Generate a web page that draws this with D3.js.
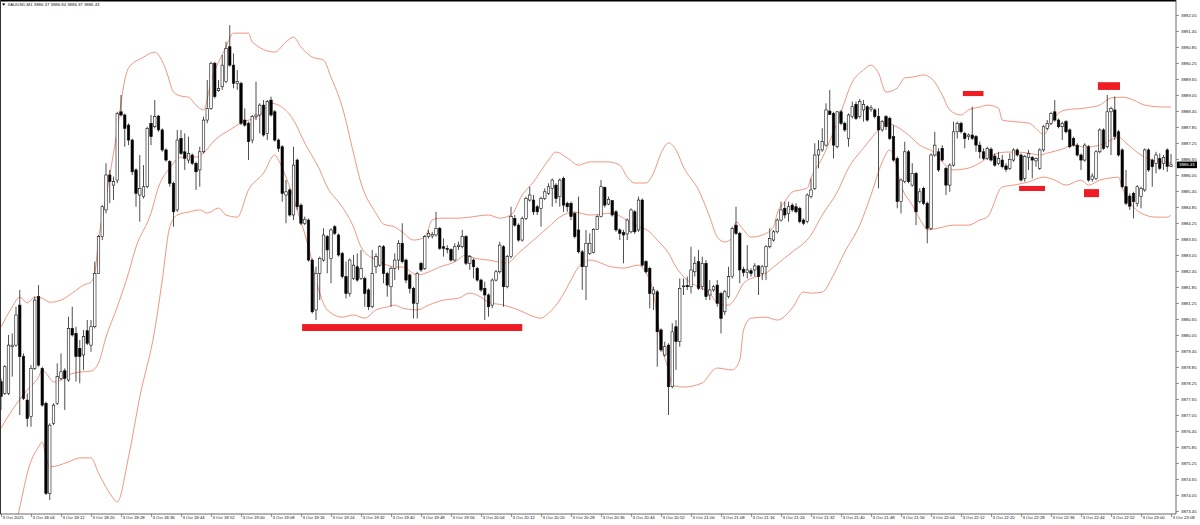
<!DOCTYPE html>
<html>
<head>
<meta charset="utf-8">
<script src="https://cdn.jsdelivr.net/npm/d3@7"></script>
<style>
  body { margin: 0; background: #fff; }
  svg { display: block; font-family: "Liberation Sans", Arial, sans-serif; }
</style>
</head>
<body>
<div class="chart"></div>
<script>
// XAUUSD M1, bar 0 = 3 Oct 17:56, one bar per minute
const symbolName = "XAUUSD,M1";

const opens = [
  3878.30,3877.86,3877.86,3879.61,3879.67,3881.17,3879.24,3877.61,3876.99,3878.80,
  3881.49,3878.80,3877.49,3874.11,3876.74,3877.49,3878.42,3878.71,3878.36,3880.30,
  3880.11,3879.55,3879.30,3880.21,3879.67,3880.36,3882.36,3883.74,3884.74,3886.05,
  3885.67,3885.86,3888.42,3888.30,3887.92,3887.36,3886.24,3885.30,3885.24,3885.61,
  3887.99,3887.86,3888.26,3887.74,3886.99,3886.55,3885.74,3884.74,3887.42,3886.92,
  3886.61,3886.80,3886.49,3886.24,3886.92,3888.11,3888.55,3890.24,3889.21,3889.36,
  3889.55,3890.86,3890.17,3889.49,3889.49,3888.11,3887.99,3887.36,3888.24,3888.30,
  3888.67,3887.61,3888.86,3888.42,3887.36,3887.11,3885.30,3885.49,3884.55,3886.61,
  3884.92,3884.24,3884.36,3882.86,3880.99,3882.36,3882.86,3883.74,3882.92,3884.11,
  3883.80,3883.11,3882.24,3881.61,3882.17,3882.61,3882.17,3882.17,3881.74,3881.11,
  3882.61,3882.67,3883.36,3882.36,3881.86,3882.55,3882.86,3883.49,3882.86,3882.30,
  3881.80,3881.24,3882.74,3882.55,3883.74,3883.76,3883.80,3884.05,3883.36,3883.30,
  3883.26,3882.86,3883.36,3883.36,3883.74,3882.74,3882.86,3882.55,3882.11,3881.80,
  3881.55,3881.17,3882.11,3882.42,3883.36,3881.86,3882.99,3884.42,3884.17,3883.61,
  3884.42,3885.11,3885.11,3884.86,3884.80,3885.17,3885.36,3885.55,3885.67,3885.24,
  3885.92,3884.99,3884.99,3884.61,3883.99,3883.17,3882.61,3883.11,3883.14,3884.01,
  3884.49,3885.59,3884.96,3885.09,3884.67,3883.99,3883.89,3883.84,3883.92,3884.67,
  3883.99,3885.11,3882.80,3882.55,3881.59,3881.67,3880.24,3879.30,3879.67,3878.11,
  3880.36,3879.80,3881.86,3881.91,3881.86,3882.42,3882.80,3881.86,3882.74,3881.55,
  3881.74,3881.92,3881.61,3880.92,3881.49,3882.24,3884.17,3883.86,3882.51,3882.39,
  3882.46,3882.49,3882.64,3882.36,3882.61,3883.36,3883.61,3883.92,3884.36,3884.80,
  3884.61,3884.92,3884.86,3884.80,3884.36,3884.30,3885.24,3885.55,3886.80,3886.99,
  3887.17,3888.45,3888.36,3887.11,3888.42,3887.99,3887.42,3888.24,3888.70,3888.24,
  3888.49,3888.61,3888.52,3888.49,3888.24,3887.74,3888.24,3888.17,3887.49,3886.67,
  3885.05,3885.80,3886.92,3885.67,3886.11,3885.05,3885.55,3884.99,3884.05,3886.80,
  3886.92,3887.05,3886.30,3885.67,3886.42,3887.67,3887.99,3887.61,3887.49,3887.55,
  3887.49,3887.17,3886.92,3886.67,3887.02,3886.76,3886.49,3886.61,3886.39,3886.30,
  3886.61,3886.99,3886.80,3885.92,3886.71,3886.71,3886.58,3886.30,3886.99,3887.80,
  3887.99,3888.42,3888.11,3887.86,3888.05,3887.74,3887.42,3887.17,3886.80,3886.61,
  3887.11,3885.89,3885.92,3886.92,3887.74,3887.11,3888.42,3888.49,3887.67,3886.99,
  3885.61,3885.26,3885.36,3884.99,3885.24,3885.49,3886.99,3886.61,3886.49,3886.67,
  3886.49,3886.99,3886.37
];

const highs = [
  3878.42,3878.92,3880.05,3880.11,3881.11,3881.74,3879.36,3877.86,3878.92,3881.49,
  3881.92,3878.86,3877.55,3876.74,3877.49,3878.99,3879.36,3878.80,3880.74,3881.11,
  3880.36,3879.86,3880.24,3880.61,3880.61,3882.80,3883.80,3884.92,3886.49,3886.24,
  3885.99,3888.42,3889.05,3888.36,3887.99,3887.42,3886.30,3886.80,3886.42,3887.86,
  3888.30,3888.86,3888.30,3887.80,3887.05,3886.61,3885.80,3887.74,3887.74,3887.61,
  3887.49,3886.86,3886.55,3887.11,3888.24,3889.61,3890.30,3890.30,3889.61,3890.55,
  3891.05,3891.67,3890.61,3889.99,3889.55,3888.55,3888.05,3888.30,3889.55,3888.74,
  3888.86,3888.86,3888.99,3888.49,3887.42,3887.17,3885.86,3885.55,3887.11,3886.67,
  3884.99,3884.49,3884.42,3882.92,3882.61,3882.99,3884.05,3883.80,3884.05,3884.17,
  3883.86,3883.17,3882.80,3882.92,3883.05,3883.11,3883.24,3882.24,3881.80,3883.24,
  3883.11,3883.42,3883.42,3882.42,3882.61,3883.11,3883.61,3884.24,3882.92,3882.36,
  3881.86,3882.42,3882.80,3883.80,3883.99,3883.92,3884.67,3884.11,3883.67,3883.42,
  3883.30,3883.49,3883.55,3883.99,3883.80,3883.05,3882.92,3882.61,3882.17,3882.05,
  3881.61,3882.17,3882.49,3883.55,3883.42,3883.05,3884.86,3884.55,3884.24,3884.49,
  3885.24,3885.61,3885.30,3884.92,3885.24,3885.55,3885.74,3885.92,3885.74,3885.92,
  3885.99,3885.05,3885.05,3884.67,3885.24,3883.24,3883.99,3883.86,3884.05,3884.55,
  3885.86,3885.61,3885.24,3885.11,3884.74,3884.05,3883.99,3884.42,3884.80,3884.74,
  3885.24,3885.17,3882.86,3882.61,3881.86,3881.74,3880.30,3879.80,3879.74,3880.49,
  3880.61,3882.17,3882.17,3882.24,3883.36,3882.99,3883.24,3882.99,3882.86,3882.11,
  3881.92,3882.11,3881.67,3881.74,3882.61,3884.11,3884.86,3883.92,3882.61,3883.42,
  3882.55,3882.74,3882.67,3882.67,3883.42,3884.05,3883.99,3884.42,3885.05,3885.05,
  3885.05,3884.99,3884.99,3884.86,3884.42,3885.36,3885.92,3887.24,3887.36,3887.80,
  3888.74,3889.24,3888.42,3888.45,3888.49,3888.05,3888.36,3888.80,3888.80,3888.90,
  3888.86,3888.67,3888.67,3888.55,3888.55,3888.11,3888.30,3888.24,3887.92,3886.74,
  3885.92,3887.30,3886.99,3886.49,3886.17,3885.55,3885.61,3885.05,3886.86,3887.67,
  3887.05,3887.17,3886.36,3886.49,3888.05,3888.05,3888.05,3887.67,3887.61,3888.61,
  3887.55,3887.30,3887.05,3887.11,3887.09,3886.86,3886.92,3886.80,3886.49,3886.86,
  3887.05,3887.05,3886.86,3886.80,3886.99,3886.76,3886.71,3887.05,3887.92,3888.11,
  3888.42,3888.86,3888.17,3888.05,3888.11,3887.80,3887.49,3887.24,3886.86,3887.24,
  3887.17,3886.11,3886.99,3887.80,3887.80,3889.05,3888.61,3888.99,3887.74,3887.05,
  3886.24,3885.36,3885.42,3885.67,3885.61,3887.05,3887.05,3886.67,3886.92,3886.86,
  3886.80,3887.05,3886.84
];

const lows = [
  3877.24,3877.80,3877.80,3878.49,3879.61,3877.05,3877.61,3876.61,3876.61,3878.74,
  3878.86,3877.36,3874.05,3873.86,3876.67,3877.42,3878.36,3877.24,3878.30,3879.99,
  3878.30,3878.24,3878.74,3879.67,3879.42,3880.30,3882.36,3883.61,3884.61,3884.99,
  3885.11,3885.74,3888.24,3887.11,3887.17,3886.05,3884.86,3884.30,3885.17,3885.55,
  3887.17,3887.80,3887.67,3886.92,3886.55,3885.61,3884.11,3884.67,3886.80,3886.24,
  3886.49,3886.42,3885.49,3885.61,3886.86,3887.99,3888.49,3888.92,3889.17,3889.24,
  3889.49,3890.11,3889.30,3889.24,3887.92,3887.86,3886.61,3887.24,3888.11,3887.61,
  3887.49,3887.36,3888.24,3887.30,3886.92,3885.05,3884.24,3884.49,3884.36,3884.74,
  3884.17,3884.17,3882.80,3880.86,3880.61,3881.36,3882.80,3882.36,3881.99,3883.80,
  3882.99,3882.17,3881.42,3881.49,3882.11,3882.05,3882.11,3881.11,3880.99,3881.05,
  3882.36,3882.61,3881.99,3881.49,3881.11,3882.11,3882.49,3882.74,3881.99,3881.61,
  3880.67,3880.67,3882.42,3882.49,3883.67,3883.67,3883.74,3883.24,3882.99,3883.11,
  3882.80,3882.80,3883.24,3883.30,3882.67,3882.49,3882.17,3882.05,3881.67,3880.61,
  3880.74,3881.05,3882.05,3882.36,3881.11,3881.80,3882.92,3884.11,3883.55,3883.55,
  3884.36,3885.05,3884.55,3884.55,3884.11,3885.11,3885.30,3884.86,3884.99,3884.86,
  3884.67,3884.67,3884.36,3883.67,3883.11,3881.74,3881.36,3883.05,3883.11,3883.99,
  3884.46,3884.83,3884.92,3884.49,3883.92,3883.61,3882.74,3883.61,3883.86,3883.84,
  3883.92,3882.61,3882.36,3881.05,3880.99,3878.86,3879.42,3879.24,3877.05,3878.05,
  3878.74,3879.61,3881.55,3881.74,3881.61,3882.24,3881.74,3881.74,3881.36,3881.36,
  3881.67,3881.11,3880.11,3880.80,3881.42,3882.17,3883.80,3881.99,3882.24,3882.17,
  3882.24,3882.24,3881.55,3882.11,3882.11,3883.30,3883.55,3883.86,3884.30,3884.42,
  3884.30,3884.67,3884.61,3884.24,3884.17,3884.24,3885.17,3885.49,3886.30,3886.92,
  3887.11,3888.30,3886.67,3887.05,3887.92,3887.67,3887.11,3888.17,3888.11,3888.17,
  3888.05,3888.05,3888.42,3888.17,3885.55,3887.67,3887.74,3887.36,3886.55,3884.80,
  3884.61,3885.74,3885.74,3885.61,3884.17,3884.99,3884.92,3883.49,3883.99,3886.74,
  3886.17,3886.55,3885.30,3885.42,3886.36,3887.42,3887.61,3887.05,3887.36,3887.36,
  3886.92,3886.67,3886.61,3886.61,3886.55,3886.36,3886.42,3886.30,3886.17,3886.24,
  3886.55,3886.74,3885.80,3885.80,3886.24,3885.92,3886.36,3886.24,3886.92,3887.74,
  3887.92,3888.05,3887.80,3887.36,3887.61,3887.05,3887.11,3886.74,3886.24,3886.55,
  3885.80,3885.80,3885.86,3886.86,3886.99,3887.05,3886.80,3887.36,3886.74,3885.55,
  3884.92,3884.74,3884.42,3884.86,3884.80,3885.42,3886.17,3885.61,3886.11,3886.24,
  3886.24,3886.17,3886.37
];

const closes = [
  3877.74,3878.86,3879.67,3879.67,3880.80,3879.24,3877.67,3876.92,3878.80,3881.36,
  3878.92,3877.42,3874.11,3876.67,3877.42,3878.49,3878.67,3878.42,3880.30,3880.05,
  3879.24,3879.24,3879.99,3879.74,3880.36,3882.36,3883.74,3884.86,3886.05,3885.80,
  3885.80,3888.36,3888.30,3887.80,3887.36,3886.17,3885.36,3885.55,3885.61,3887.80,
  3887.49,3888.24,3887.74,3886.99,3886.61,3885.74,3884.67,3887.36,3886.86,3886.67,
  3886.86,3886.49,3886.17,3886.92,3888.11,3888.55,3890.24,3888.99,3889.30,3890.17,
  3890.80,3890.17,3889.49,3889.55,3887.99,3887.92,3887.30,3888.24,3888.30,3888.67,
  3887.55,3888.80,3888.30,3887.36,3887.05,3885.36,3885.42,3884.55,3886.42,3884.86,
  3884.24,3884.39,3882.86,3880.92,3882.36,3882.92,3883.80,3883.24,3883.99,3883.86,
  3883.05,3882.24,3881.61,3882.86,3882.67,3882.11,3882.55,3881.61,3881.11,3882.36,
  3882.99,3883.36,3882.36,3881.92,3882.55,3882.86,3883.49,3882.80,3882.11,3881.80,
  3881.24,3882.36,3882.49,3883.74,3883.86,3883.82,3884.05,3883.30,3883.30,3883.26,
  3882.86,3883.36,3883.42,3883.74,3882.74,3882.99,3882.61,3882.11,3881.74,3881.55,
  3881.11,3882.11,3882.42,3883.42,3881.86,3882.99,3884.49,3884.17,3883.61,3884.42,
  3885.17,3885.30,3884.67,3884.67,3885.17,3885.42,3885.61,3885.86,3885.17,3885.86,
  3884.92,3884.86,3884.49,3883.74,3883.17,3882.61,3883.49,3883.49,3884.01,3884.49,
  3885.61,3884.92,3885.14,3884.55,3883.99,3883.86,3883.80,3884.36,3884.74,3883.92,
  3885.11,3882.67,3882.42,3881.61,3881.74,3880.17,3879.49,3879.61,3878.11,3880.17,
  3879.80,3881.80,3881.89,3881.86,3882.49,3882.74,3881.80,3882.74,3881.49,3881.74,
  3881.86,3881.24,3880.67,3881.67,3882.24,3884.05,3883.86,3882.49,3882.39,3882.49,
  3882.36,3882.64,3882.24,3882.61,3883.36,3883.67,3883.92,3884.36,3884.74,3884.55,
  3884.86,3884.74,3884.67,3884.30,3884.24,3885.30,3885.49,3886.80,3886.99,3887.30,
  3888.49,3888.32,3887.17,3888.42,3887.99,3887.74,3888.30,3888.61,3888.17,3888.80,
  3888.70,3888.11,3888.57,3888.24,3887.74,3888.05,3887.86,3887.42,3886.61,3885.05,
  3885.86,3886.92,3885.80,3886.11,3884.67,3885.42,3884.99,3884.05,3886.80,3887.17,
  3886.24,3886.61,3885.67,3886.42,3887.67,3887.99,3887.67,3887.42,3887.55,3887.42,
  3887.17,3886.92,3886.67,3887.05,3886.61,3886.42,3886.67,3886.36,3886.26,3886.64,
  3886.99,3886.80,3885.86,3886.74,3886.86,3886.61,3886.67,3886.99,3887.86,3887.99,
  3888.36,3888.11,3887.86,3887.99,3887.67,3887.11,3887.17,3886.80,3886.61,3887.17,
  3885.86,3886.01,3886.92,3887.74,3887.05,3888.42,3888.55,3887.49,3886.80,3885.61,
  3884.99,3884.88,3885.05,3885.61,3885.55,3886.99,3886.24,3886.36,3886.80,3886.30,
  3886.71,3886.37,3886.43
];

// Bollinger bands: [bar, price]
const upperBand = [
  [0,3880.35],[3,3881.10],[5,3881.47],[7,3881.25],[9,3881.47],[11,3881.43],[13,3881.28],
  [16,3881.36],[19,3881.62],[22,3881.92],[24,3882.04],[25,3882.37],[26,3883.61],[28,3885.22],
  [31,3887.74],[33,3889.61],[34,3890.06],[38,3890.47],[41,3890.66],[42,3890.55],[44,3889.99],
  [46,3889.16],[48,3889.01],[50,3888.97],[52,3888.67],[54,3888.49],[56,3889.53],[60,3890.85],
  [62,3891.37],[66,3891.37],[67,3891.04],[73,3890.66],[76,3891.04],[78,3891.22],[80,3890.85],
  [83,3890.47],[86,3890.36],[88,3889.72],[91,3888.60],[94,3886.87],[96,3885.75],[100,3884.62],
  [102,3884.21],[105,3884.10],[107,3883.91],[110,3883.61],[113,3883.72],[115,3884.36],
  [117,3884.43],[122,3884.43],[125,3884.47],[130,3884.55],[133,3884.43],[136,3884.55],
  [139,3885.30],[142,3885.79],[146,3886.61],[148,3886.91],[151,3886.69],[154,3886.42],
  [157,3886.54],[162,3886.54],[165,3886.42],[167,3885.97],[169,3885.75],[172,3885.75],
  [174,3886.12],[176,3886.87],[178,3887.25],[180,3886.99],[182,3886.35],[186,3885.49],
  [189,3884.47],[191,3883.72],[193,3883.54],[195,3883.69],[196,3884.29],[198,3883.99],
  [200,3883.72],[203,3883.80],[206,3884.10],[207,3884.62],[209,3885.04],[211,3885.41],
  [215,3885.56],[216,3885.94],[219,3886.69],[222,3887.66],[224,3888.41],[227,3889.53],
  [230,3889.99],[232,3890.17],[234,3889.87],[236,3889.16],[239,3889.31],[241,3889.69],
  [243,3889.72],[246,3889.80],[249,3889.53],[251,3889.05],[253,3888.49],[256,3888.30],
  [258,3888.49],[261,3888.60],[263,3888.67],[266,3888.56],[267,3888.11],[271,3888.04],
  [274,3888.00],[277,3887.66],[278,3887.55],[280,3888.00],[282,3888.37],[284,3888.49],
  [289,3888.56],[293,3888.67],[296,3888.94],[299,3888.97],[302,3888.86],[305,3888.67],
  [310,3888.60],[312,3888.60]
];

const middleBand = [
  [0,3876.56],[3,3877.24],[7,3877.99],[10,3878.47],[11,3878.74],[12,3878.62],[14,3878.29],
  [16,3878.36],[18,3878.55],[21,3878.66],[24,3878.70],[26,3879.00],[28,3879.97],[31,3881.10],
  [34,3882.37],[36,3883.35],[40,3884.62],[42,3885.60],[45,3886.31],[48,3886.72],[52,3886.72],
  [54,3886.87],[57,3887.36],[61,3887.74],[64,3888.00],[69,3888.30],[72,3888.74],[74,3888.67],
  [78,3888.11],[81,3887.25],[85,3886.24],[87,3885.60],[91,3884.85],[94,3884.10],[96,3883.35],
  [100,3882.86],[103,3882.67],[105,3882.60],[107,3882.60],[111,3882.30],[114,3882.41],
  [117,3882.60],[121,3882.79],[124,3883.05],[126,3882.94],[130,3882.86],[135,3882.75],
  [138,3883.12],[142,3883.61],[146,3884.10],[149,3884.47],[153,3884.66],[157,3884.55],
  [163,3884.62],[166,3884.43],[169,3884.17],[173,3883.91],[175,3883.61],[178,3883.12],
  [180,3882.60],[183,3882.11],[186,3881.85],[189,3881.62],[191,3881.25],[194,3881.17],
  [196,3881.47],[198,3881.99],[201,3882.22],[204,3882.37],[206,3882.60],[209,3882.94],
  [211,3883.16],[216,3883.80],[219,3884.55],[223,3885.41],[226,3886.31],[230,3887.06],
  [234,3887.74],[236,3888.00],[239,3887.85],[242,3887.55],[245,3887.17],[249,3886.87],
  [251,3886.54],[254,3886.24],[258,3886.31],[261,3886.50],[263,3886.69],[268,3886.91],
  [271,3886.91],[274,3886.87],[277,3886.80],[279,3886.87],[283,3887.02],[286,3887.17],
  [289,3887.10],[293,3887.17],[295,3887.29],[298,3887.47],[300,3887.25],[304,3886.80],
  [307,3886.61],[310,3886.54],[312,3886.50]
];

const lowerBand = [
  [4,3872.92],[6,3874.24],[7,3874.87],[10,3875.85],[11,3876.04],[12,3875.47],[13,3875.10],
  [18,3875.29],[21,3875.44],[24,3875.44],[26,3874.87],[29,3874.12],[31,3873.79],[34,3875.47],
  [37,3877.72],[41,3880.24],[43,3882.11],[45,3884.10],[47,3884.55],[50,3884.66],[53,3884.74],
  [55,3884.62],[58,3884.81],[60,3884.55],[63,3884.47],[66,3885.49],[70,3886.12],[73,3886.80],
  [74,3886.61],[76,3885.97],[79,3884.74],[82,3883.35],[85,3881.62],[87,3880.99],[91,3880.72],
  [94,3880.80],[97,3880.68],[100,3880.99],[103,3881.10],[105,3881.17],[107,3881.06],
  [111,3880.99],[114,3881.17],[118,3881.36],[122,3881.43],[125,3881.62],[128,3881.47],
  [130,3881.28],[134,3881.17],[138,3880.99],[141,3880.80],[144,3880.68],[146,3880.87],
  [149,3881.36],[152,3882.11],[154,3882.60],[157,3882.86],[163,3882.60],[166,3882.56],
  [170,3882.67],[172,3882.37],[174,3881.62],[175,3880.72],[176,3879.75],[178,3878.74],
  [179,3878.17],[182,3878.10],[187,3878.25],[190,3878.74],[191,3878.81],[195,3878.74],
  [197,3879.11],[198,3880.24],[200,3880.68],[204,3880.72],[207,3880.61],[211,3881.06],
  [214,3881.66],[216,3881.62],[219,3881.66],[222,3882.30],[225,3883.16],[229,3884.17],
  [232,3885.30],[235,3886.54],[237,3886.99],[238,3886.80],[240,3885.67],[243,3884.92],
  [246,3884.17],[247,3883.99],[250,3884.06],[254,3884.17],[258,3884.17],[261,3884.36],
  [263,3884.47],[267,3885.60],[270,3885.67],[274,3885.79],[278,3885.97],[281,3885.86],
  [284,3885.67],[288,3885.86],[290,3885.67],[293,3885.86],[296,3885.94],[298,3885.97],
  [299,3885.56],[302,3884.85],[304,3884.62],[308,3884.47],[311,3884.47],[312,3884.55]
];

// red zones drawn on the chart: bar range and price range
const zoneFrom = [80.3, 256.5, 292.5, 271.5, 288.8];
const zoneTo = [139.0, 262.0, 298.4, 278.4, 292.8];
const zoneTop = [3880.46, 3889.20, 3889.53, 3885.64, 3885.52];
const zoneBottom = [3880.20, 3889.01, 3889.24, 3885.45, 3885.22];

const priceTicks = [
  3892.05,3891.45,3890.85,3890.25,3889.65,3889.05,3888.45,3887.85,3887.25,3886.65,
  3886.05,3885.45,3884.85,3884.25,3883.65,3883.05,3882.45,3881.85,3881.25,3880.65,
  3880.05,3879.45,3878.85,3878.25,3877.65,3877.05,3876.45,3875.85,3875.25,3874.65,
  3874.05,3873.45
];

const timeLabels = [
  "3 Oct 2025","3 Oct 18:04","3 Oct 18:12","3 Oct 18:20","3 Oct 18:28","3 Oct 18:36",
  "3 Oct 18:44","3 Oct 18:52","3 Oct 19:00","3 Oct 19:08","3 Oct 19:16","3 Oct 19:24",
  "3 Oct 19:32","3 Oct 19:40","3 Oct 19:48","3 Oct 19:56","3 Oct 20:04","3 Oct 20:12",
  "3 Oct 20:20","3 Oct 20:28","3 Oct 20:36","3 Oct 20:44","3 Oct 20:52","3 Oct 21:00",
  "3 Oct 21:08","3 Oct 21:16","3 Oct 21:24","3 Oct 21:32","3 Oct 21:40","3 Oct 21:48",
  "3 Oct 21:56","3 Oct 22:04","3 Oct 22:12","3 Oct 22:20","3 Oct 22:28","3 Oct 22:36",
  "3 Oct 22:44","3 Oct 22:52","3 Oct 23:00","3 Oct 23:08"
];

function drawChart() {
  const W = 1200, H = 525;
  const plotRight = 1176, plotBottom = 514;
  const n = Math.min(opens.length, highs.length, lows.length, closes.length);

  const svg = d3.select(".chart")
    .append("svg")
    .attr("width", W)
    .attr("height", H);

  svg.append("rect").attr("width", W).attr("height", H).attr("fill", "#fff");

  svg.append("defs").append("clipPath").attr("id", "plot")
    .append("rect").attr("x", 0).attr("y", 0)
    .attr("width", plotRight).attr("height", plotBottom);

  // one bar = 3.75px
  const x = d3.scaleLinear().domain([0, 312]).range([1, 1171]);
  const y = d3.scaleLinear().domain([3873.45, 3892.05]).range([511, 15]);

  const plot = svg.append("g").attr("clip-path", "url(#plot)");

  // bands
  const line = d3.line()
    .x(d => x(d[0]))
    .y(d => y(d[1]))
    .curve(d3.curveMonotoneX);

  [upperBand, middleBand, lowerBand].forEach(band => {
    plot.append("path")
      .datum(band)
      .attr("d", line)
      .attr("fill", "none")
      .attr("stroke", "#ee8a72")
      .attr("stroke-width", 0.9);
  });

  // candles
  const bars = d3.range(n).map(i => ({
    i, o: opens[i], h: highs[i], l: lows[i], c: closes[i]
  }));

  plot.selectAll("line.wick")
    .data(bars)
    .enter()
    .append("line")
    .attr("class", "wick")
    .attr("x1", d => x(d.i))
    .attr("x2", d => x(d.i))
    .attr("y1", d => y(d.h))
    .attr("y2", d => y(d.l))
    .attr("stroke", "#222")
    .attr("stroke-width", 0.8);

  const bodyW = 2.5;
  plot.selectAll("rect.body")
    .data(bars)
    .enter()
    .append("rect")
    .attr("class", "body")
    .attr("x", d => x(d.i) - bodyW / 2)
    .attr("y", d => y(Math.max(d.o, d.c)))
    .attr("width", bodyW)
    .attr("height", d => Math.max(0.6, Math.abs(y(d.o) - y(d.c))))
    .attr("fill", d => d.c >= d.o ? "#fff" : "#000")
    .attr("stroke", "#111")
    .attr("stroke-width", 0.6);

  // red zones
  plot.selectAll("rect.zone")
    .data(zoneFrom.map((f, k) => ({ f, t: zoneTo[k], top: zoneTop[k], bot: zoneBottom[k] })))
    .enter()
    .append("rect")
    .attr("class", "zone")
    .attr("x", d => x(d.f))
    .attr("y", d => y(d.top))
    .attr("width", d => x(d.t) - x(d.f))
    .attr("height", d => y(d.bot) - y(d.top))
    .attr("fill", "#ee1d25");

  // price axis on the right
  const yAxis = svg.append("g")
    .attr("transform", `translate(${plotRight}, 0)`)
    .call(d3.axisRight(y).tickValues(priceTicks).tickSize(3).tickPadding(2)
      .tickFormat(d3.format(".2f")));
  yAxis.select(".domain").remove();
  yAxis.selectAll("line").attr("stroke", "#555").attr("stroke-width", 0.6);
  yAxis.selectAll("text").attr("font-size", "4.3px").attr("fill", "#111");

  // time axis at the bottom
  const tickBars = timeLabels.map((d, k) => k * 8);
  const xAxis = svg.append("g")
    .attr("transform", `translate(0, ${plotBottom})`)
    .call(d3.axisBottom(x).tickValues(tickBars).tickSize(3)
      .tickFormat((d, k) => timeLabels[k]));
  xAxis.select(".domain").remove();
  xAxis.selectAll("line").attr("stroke", "#555").attr("stroke-width", 0.6);
  xAxis.selectAll("text")
    .attr("font-size", "4.3px")
    .attr("fill", "#111")
    .attr("y", 2)
    .attr("x", 1)
    .style("text-anchor", "start");

  // frame
  svg.append("line").attr("x1", 0).attr("x2", plotRight).attr("y1", 0.75).attr("y2", 0.75)
    .attr("stroke", "#000").attr("stroke-width", 1.5);
  svg.append("line").attr("x1", 0.5).attr("x2", 0.5).attr("y1", 0).attr("y2", plotBottom)
    .attr("stroke", "#333").attr("stroke-width", 1);
  svg.append("line").attr("x1", plotRight).attr("x2", plotRight).attr("y1", 0).attr("y2", plotBottom)
    .attr("stroke", "#444").attr("stroke-width", 0.8);
  svg.append("line").attr("x1", 0).attr("x2", plotRight).attr("y1", plotBottom).attr("y2", plotBottom)
    .attr("stroke", "#444").attr("stroke-width", 0.8);

  // current price tag
  const last = bars[n - 1];
  svg.append("rect")
    .attr("x", plotRight + 1)
    .attr("y", y(last.c) - 3.3)
    .attr("width", 20)
    .attr("height", 6.6)
    .attr("fill", "#000");
  svg.append("text")
    .attr("x", plotRight + 3)
    .attr("y", y(last.c))
    .attr("dy", "0.35em")
    .attr("font-size", "4.3px")
    .attr("fill", "#fff")
    .text(last.c.toFixed(2));

  // header
  svg.append("path")
    .attr("d", "M2,3.4 L5.4,3.4 L3.7,5.8 Z")
    .attr("fill", "#000");
  svg.append("text")
    .attr("x", 7.5)
    .attr("y", 6)
    .attr("font-size", "4.3px")
    .attr("fill", "#111")
    .text(`${symbolName}  ${last.o.toFixed(2)} ${last.h.toFixed(2)} ${last.l.toFixed(2)} ${last.c.toFixed(2)}`);
}

drawChart();
</script>
</body>
</html>
